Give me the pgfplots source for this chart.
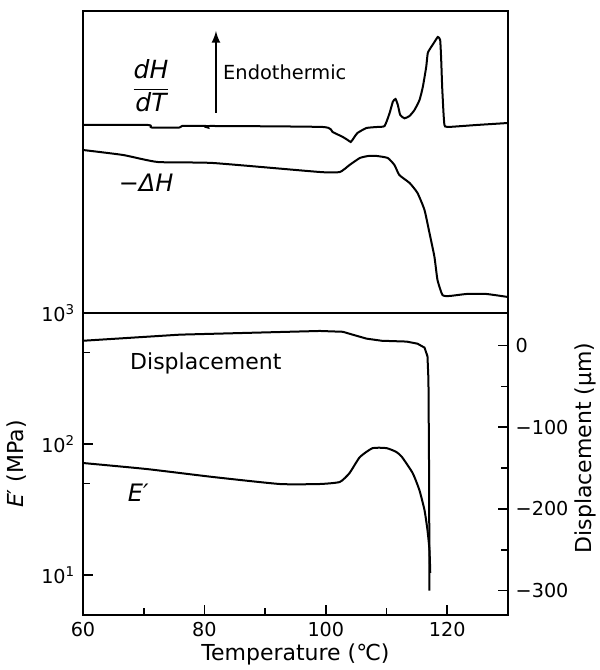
\documentclass[border=0pt]{standalone}
\usepackage{fontspec}
\setmainfont{DejaVu Sans}
\usepackage{pgfplots}
\pgfplotsset{compat=1.18}
\begin{document}
\fontsize{11}{13}\selectfont
\begin{tikzpicture}
\useasboundingbox (-41.5pt,-27.5pt) rectangle (258.5pt,307.5pt);
\pgfplotsset{every axis/.append style={scale only axis, width=212.5pt, height=151pt,
  xmin=60, xmax=130, axis line style={line width=1pt},
  tick style={line width=0.8pt, black}, tick align=inside,
  major tick length=5pt, minor tick length=3.5pt,
  label style={font=\fontsize{11}{13}\selectfont},
  tick label style={font=\fontsize{9.6}{11}\selectfont},
  /pgf/number format/assume math mode=true}}
% ---------- top panel (DSC) ----------
\begin{axis}[at={(0,151pt)}, anchor=south west, ymin=0, ymax=302,
  xtick=\empty, ytick=\empty]
\addplot[black, line width=1pt, smooth, tension=0.3] coordinates {
(60,188) (70.7,188) (71.3,185.5) (75.9,185.5) (76.3,187) (80.2,187) (80.56,185.5) (80.9,187)
(99.5,186) (101.1,181) (102.8,176) (103.6,173) (104.1,171) (104.6,175) (105.2,180)
(106.7,185) (108.4,186) (109.67,187) (110.49,199.7) (111.04,211.3) (111.48,214)
(111.86,208) (112.25,198) (112.96,194.7) (113.78,197) (114.6,203) (115.43,213)
(115.97,226) (116.53,246) (116.79,260) (117.35,266) (117.89,271) (118.44,276)
(118.83,273) (119.0,253) (119.16,226) (119.38,200) (119.54,188) (120.03,186)
(124.8,188) (130,190)};
\addplot[black, line width=1pt, smooth, tension=0.3] coordinates {
(60,163) (66.6,158) (72.3,151) (81.4,150) (99.0,141) (102.3,141) (103.9,148)
(105.6,155) (107.0,157) (108.4,157) (110.2,155) (111.3,148) (112.1,138) (113.8,130)
(115.1,120) (116.25,103) (117.07,80) (117.89,56) (118.39,33) (119.21,18)
(120.36,17) (123.16,19) (126.45,19) (130,16)};
\node at (axis cs:71.2,227) {\fontsize{12.5}{14}\selectfont$\displaystyle\frac{\hbox{\itshape dH}}{\hbox{\itshape dT}}$};
\draw[-latex, line width=1pt] (axis cs:81.9,200) -- (axis cs:81.9,282);
\node[anchor=west, inner sep=1pt] at (axis cs:82.7,241) {\fontsize{9.7}{11}\selectfont Endothermic};
\node at (axis cs:70.4,130) {\fontsize{12}{14}\selectfont\itshape −ΔH};
\end{axis}
% ---------- bottom panel, left axis (E') ----------
\begin{axis}[at={(0,0)}, anchor=south west, ymode=log, ymin=4.95, ymax=1000,
  ytick={10,100,1000}, yticklabels={10\textsuperscript{1},10\textsuperscript{2},10\textsuperscript{3}},
  minor ytick={50,500}, xtick={60,80,100,120}, minor xtick={70,90,110},
  xtick pos=left, ytick pos=left,
  xlabel={Temperature (℃)}, ylabel={\textit{E}′ (MPa)},
  xlabel style={yshift=4.5pt}]
\addplot[black, line width=1pt, smooth, tension=0.3] coordinates {
(60,71.6) (70.5,64.4) (81.4,56) (92.4,49.5) (99.0,49.5) (102.3,51.3) (103.9,60)
(105.6,79.5) (107.7,93) (110.0,93) (111.6,87) (112.5,80) (114.3,60) (115.4,44.6)
(116.25,31.3) (116.74,22) (117.07,15.5) (117.2,10.4)};
\node at (rel axis cs:0.289,0.834) {Displacement};
\node at (rel axis cs:0.13,0.405) {\fontsize{12}{14}\selectfont\itshape E′};
\end{axis}
% ---------- bottom panel, right axis (Displacement) ----------
\begin{axis}[at={(0,0)}, anchor=south west, ymin=-330, ymax=40,
  axis y line*=right, axis x line=none,
  ytick={-300,-200,-100,0}, yticklabels={−300,−200,−100,0},
  minor ytick={-250,-150,-50}, tick align=inside,
  ylabel={Displacement (µm)}, ylabel style={yshift=4.5pt, xshift=8pt}]
\addplot[black, line width=1pt] coordinates {
(60,6) (76,13.5) (99,18) (102.8,17) (104.4,13.5) (106.7,8.6) (109.2,6) (113.3,5)
(115.1,2.4) (116.25,-2.4) (116.74,-13) (116.9,-42) (117.0,-150) (117.07,-300)};
\end{axis}
\end{tikzpicture}
\end{document}
